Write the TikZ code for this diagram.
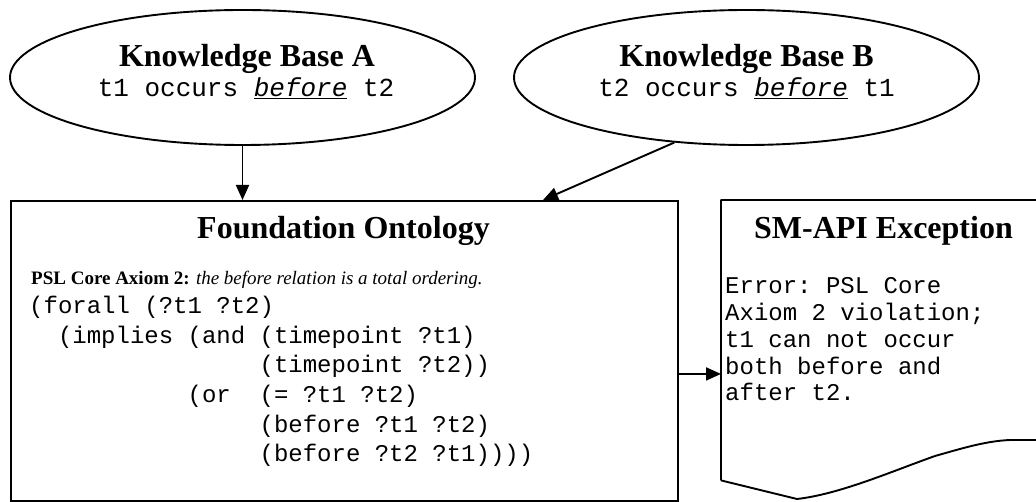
\documentclass[tikz,border=0pt]{standalone}
\usepackage{fontspec}
\setmainfont{Liberation Serif}
\setmonofont{Liberation Mono}
\usetikzlibrary{arrows.meta,shapes.geometric,calc}
\begin{document}
\begin{tikzpicture}[x=1pt,y=-1pt,
  ln/.style={line width=1.9pt},
  ell/.style={ellipse,draw,line width=1.9pt,minimum width=465pt,minimum height=135pt,inner sep=0pt},
  boxx/.style={draw,line width=1.9pt,rectangle,inner sep=0pt,anchor=north west},
  ttl/.style={inner sep=0pt,anchor=base,font=\fontsize{32}{38}\selectfont\bfseries},
  sub/.style={inner sep=0pt,anchor=base,font=\ttfamily\fontsize{26}{30}\selectfont},
  code/.style={inner sep=0pt,anchor=base west,font=\ttfamily\fontsize{24}{29}\selectfont},
  arr/.style={line width=1.9pt,-{Triangle[length=15pt,width=13pt]}}]
\useasboundingbox (0,0) rectangle (1036,502);

% knowledge bases
\node[ell] (A) at (242.5,77.5) {};
\node[ttl] (At) at (247,67) {Knowledge Base A};
\node[sub] (As) at (246,97) {t1 occurs \underline{\textit{before}} t2};
\node[ell] (B) at (746.5,77.5) {};
\node[ttl] (Bt) at (746.5,67) {Knowledge Base B};
\node[sub] (Bs) at (746.5,97) {t2 occurs \underline{\textit{before}} t1};

% foundation ontology
\node[boxx,minimum width=667pt,minimum height=300pt] (F) at (10,200) {};
\node[ttl] (Ft) at (343.5,239) {Foundation Ontology};
\node[inner sep=0pt,anchor=base west,font=\fontsize{19}{23}\selectfont] (Fp) at (31,285)
  {\textbf{PSL Core Axiom 2:} \textit{the before relation is a total ordering.}};
\node[code] (c1) at (29,314) {(forall~(?t1~?t2)};
\node[code] (c2) at (29,343.5) {~~(implies~(and~(timepoint~?t1)};
\node[code] (c3) at (29,373) {~~~~~~~~~~~~~~~~(timepoint~?t2))};
\node[code] (c4) at (29,402.5) {~~~~~~~~~~~(or~~(=~?t1~?t2)};
\node[code] (c5) at (29,432) {~~~~~~~~~~~~~~~~(before~?t1~?t2)};
\node[code] (c6) at (29,461.5) {~~~~~~~~~~~~~~~~(before~?t2~?t1))))};

% SM-API exception (document shape)
\node[inner sep=0pt,anchor=north west,minimum width=325pt,minimum height=280pt] (S) at (721,200) {};
\draw[ln,line join=round] (S.south west) -- (S.north west) -- (1046,200) -- (1046,440) -- (1010,440)
  .. controls (985,441) and (960,449) .. (935,456)
  .. controls (890,472) and (840,494) .. (797,499) -- (S.south west);
\node[ttl] (St) at (883.5,239) {SM-API Exception};
\node[code] (e1) at (725,294) {Error:~PSL~Core};
\node[code] (e2) at (725,320.7) {Axiom~2~violation;};
\node[code] (e3) at (725,347.4) {t1~can~not~occur};
\node[code] (e4) at (725,374.1) {both~before~and};
\node[code] (e5) at (725,400.8) {after~t2.};

% connectors
\draw[arr] (A.south) -- (A.south |- F.north);
\coordinate (bin) at ($(F.north west)+(533,0)$);
\draw[arr] (B.222) -- (bin);
\coordinate (fo) at ($(F.east)+(0,23)$);
\draw[arr] (fo) -- (fo -| S.west);
\end{tikzpicture}
\end{document}
